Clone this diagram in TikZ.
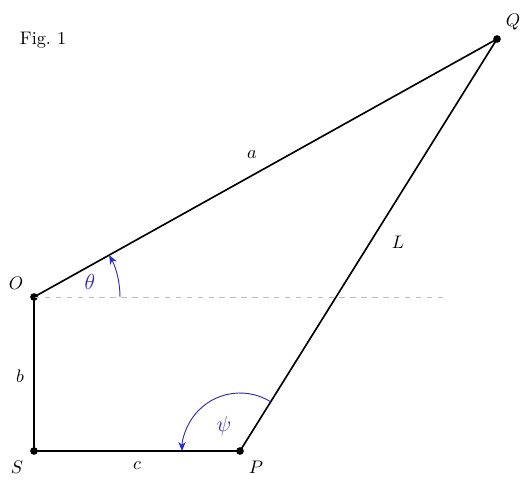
\documentclass[tikz,border=0pt]{standalone}
\usetikzlibrary{arrows.meta}
\definecolor{dashcol}{RGB}{175,190,220}
\definecolor{angcol}{RGB}{40,40,200}
\begin{document}
\begin{tikzpicture}[x=0.55pt,y=0.55pt,
  dot/.style={circle,fill=black,inner sep=0pt,minimum size=4.2pt},
  side/.style={line width=0.9pt,black},
  angarc/.style={angcol,line width=0.5pt,-{Stealth[length=5pt,width=4pt]}},
  lbl/.style={inner sep=0pt},
  anglbl/.style={inner sep=0pt,angcol,font=\large}]
\useasboundingbox (0,0) rectangle (532,488);
\node[dot] (O) at (34,191) {};
\node[dot] (S) at (34,37) {};
\node[dot] (P) at (240,37) {};
\node[dot] (Q) at (497,449) {};
\coordinate (D) at (445,191);
\draw[dashed,dashcol,line width=0.5pt] (O.center) -- (D);
\draw[side] (O.center) -- (Q.center) -- (P.center) -- (S.center) -- (O.center);
\draw[angarc] ([shift={(0:47.3pt)}]O.center) arc[start angle=0,end angle=29.13,radius=47.3pt];
\draw[angarc] ([shift={(58.05:31.9pt)}]P.center) arc[start angle=58.05,end angle=180,radius=31.9pt];
\node[lbl] (lO) at (16,205) {$O$};
\node[lbl] (lS) at (17,21) {$S$};
\node[lbl] (lP) at (256,21) {$P$};
\node[lbl] (lQ) at (513,466) {$Q$};
\node[lbl] (la) at (252,333) {$a$};
\node[lbl] (lL) at (398,246) {$L$};
\node[lbl] (lb) at (20,112) {$b$};
\node[lbl] (lc) at (137,22) {$c$};
\node[anglbl] (lt) at (90,206) {$\theta$};
\node[anglbl] (lp) at (224,62) {$\psi$};
\node[lbl] (fig) at (43,448) {Fig.~1};
\end{tikzpicture}
\end{document}
